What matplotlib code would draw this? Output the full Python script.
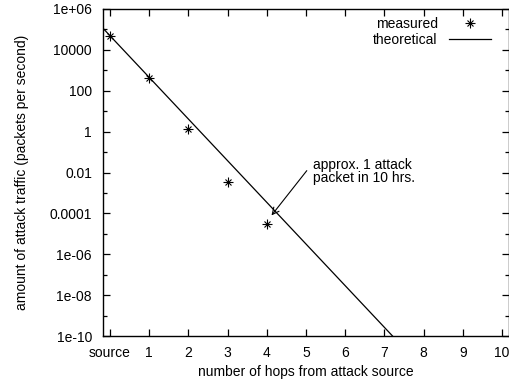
import numpy as np
import matplotlib
matplotlib.use("Agg")
import matplotlib.pyplot as plt
from matplotlib.legend_handler import HandlerTuple

plt.rcParams["font.family"] = ["Liberation Sans", "DejaVu Sans"]
plt.rcParams["font.size"] = 10

# measured traffic per hop (packets/s)
hops = [0, 1, 2, 3, 4]
measured = [4.8e4, 420, 1.38, 0.0035, 2.95e-5]
# theoretical line: log10 intercept and slope per hop
theo_log0 = 4.69
theo_slope = -2.038
theo_x = [-0.2, 7.5]

xtick_pos = list(range(11))
xtick_lab = ["source"] + [str(i) for i in range(1, 11)]
ytick_pos = [1e6, 1e4, 1e2, 1, 1e-2, 1e-4, 1e-6, 1e-8, 1e-10]
ytick_lab = ["1e+06", "10000", "100", "1", "0.01", "0.0001", "1e-06", "1e-08", "1e-10"]

fig = plt.figure(figsize=(5.1, 3.85), dpi=100)
ax = fig.add_axes([103/510, 1 - 336/385, 406/510, (336 - 9)/385])

tx = np.array(theo_x)
ty = 10 ** (theo_log0 + theo_slope * tx)
ln, = ax.plot(tx, ty, color="black", lw=0.9)
p1, = ax.plot(hops, measured, ls="none", marker="+", ms=6.5, mew=0.8, color="black")
p2, = ax.plot(hops, measured, ls="none", marker="x", ms=4.5, mew=0.8, color="black")

ax.set_yscale("log")
ax.set_xlim(-0.18, 10.18)
ax.set_ylim(1e-10, 1e6)
ax.set_xticks(xtick_pos)
ax.set_xticklabels(xtick_lab)
ax.set_yticks(ytick_pos)
ax.set_yticklabels(ytick_lab)
ax.set_yticks([10.0 ** k for k in range(-9, 6, 2)], minor=True)
ax.yaxis.set_minor_formatter(plt.NullFormatter())
ax.tick_params(which="both", direction="in", top=True, right=True, length=5, width=0.9)
ax.tick_params(which="minor", length=3)
ax.tick_params(axis="y", pad=8)
ax.tick_params(axis="x", pad=7)
for s in ax.spines.values():
    s.set_linewidth(1.0)

ax.set_xlabel("number of hops from attack source", labelpad=4)
ax.set_ylabel("amount of attack traffic (packets per second)", labelpad=15)

# annotation: arrow points to the theoretical line at hop ~4
ax.text(5.18, 10 ** -1.94, "approx. 1 attack\npacket in 10 hrs.", ha="left", va="center",
        linespacing=0.95)
ax.annotate("", xy=(4.12, 10 ** -4.1), xytext=(5.02, 10 ** -1.91),
            arrowprops=dict(arrowstyle="->", color="black", lw=0.8, shrinkA=0, shrinkB=0,
                            mutation_scale=12))

ax.legend([(p1, p2), ln], ["measured", "theoretical"], loc="upper right",
          handler_map={tuple: HandlerTuple(ndivide=1)}, markerfirst=False,
          frameon=False, handlelength=3.0, borderaxespad=0.2, labelspacing=0.1,
          handletextpad=0.8, bbox_to_anchor=(0.975, 1.0))

fig.savefig("out.png", dpi=100)
